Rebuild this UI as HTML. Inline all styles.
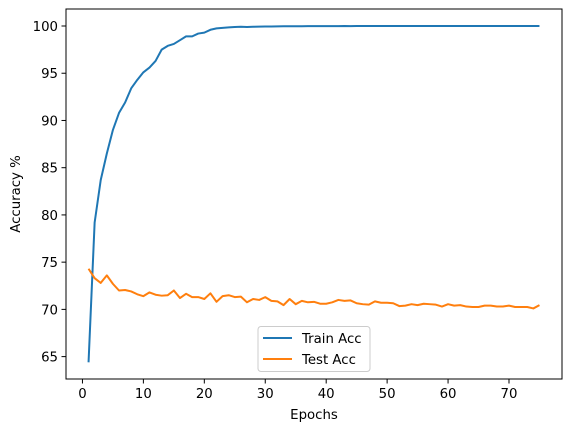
<!DOCTYPE html>
<html><head><meta charset="utf-8"><style>
body{margin:0;background:#fff}
svg text{font-family:"DejaVu Sans","Liberation Sans",sans-serif;font-size:13.3px;fill:#000}
</style></head><body>
<svg id="chart" width="571" height="432" viewBox="0 0 571 432">
<g id="marks"></g>
<rect x="66" y="9" width="496" height="370" fill="none" stroke="#000" stroke-width="1"/>
<g id="ticks"></g>
<text x="314" y="419" text-anchor="middle">Epochs</text>
<text transform="translate(20,194) rotate(-90)" text-anchor="middle">Accuracy %</text>
<g>
<rect x="258" y="326.5" width="112" height="45" rx="3" fill="#fff" fill-opacity="0.8" stroke="#ccc"/>
<line x1="263" x2="292" y1="338" y2="338" stroke="#1f77b4" stroke-width="2"/>
<text x="302" y="343">Train Acc</text>
<line x1="263" x2="292" y1="359" y2="359" stroke="#ff7f0e" stroke-width="2"/>
<text x="302" y="364">Test Acc</text>
</g>
</svg>
<script>
const trainAcc=[64.4,79.2,83.7,86.5,89,90.8,91.9,93.4,94.3,95.1,95.6,96.3,97.5,97.9,98.1,98.5,98.9,98.9,99.2,99.3,99.6,99.75,99.8,99.85,99.9,99.92,99.9,99.92,99.93,99.95,99.95,99.96,99.98,99.97,99.98,99.98,99.99,99.99,99.99,99.99,99.99,99.99,100,99.99,100,100,100,100,100,100,100,100,100,100,100,100,100,100,100,100,100,100,100,100,100,100,100,100,100,100,100,100,100,100,100];
const testAcc=[74.3,73.3,72.8,73.6,72.7,72.0,72.05,71.9,71.6,71.4,71.8,71.55,71.45,71.5,72.0,71.2,71.65,71.3,71.3,71.1,71.7,70.8,71.4,71.5,71.3,71.35,70.75,71.1,71.0,71.3,70.9,70.85,70.45,71.1,70.55,70.9,70.75,70.8,70.6,70.6,70.75,71.0,70.9,70.95,70.65,70.55,70.5,70.85,70.7,70.7,70.65,70.35,70.4,70.55,70.45,70.6,70.55,70.5,70.3,70.55,70.4,70.45,70.3,70.25,70.25,70.4,70.4,70.3,70.3,70.4,70.25,70.25,70.25,70.1,70.45];
const xTicks=[0,10,20,30,40,50,60,70];
const yTicks=[65,70,75,80,85,90,95,100];
const ns="http://www.w3.org/2000/svg";
const X0=-2.7,X1=78.7,Y0=62.63,Y1=101.8;
const sx=v=>66+(v-X0)/(X1-X0)*496;
const sy=v=>379-(v-Y0)/(Y1-Y0)*370;
const marks=document.getElementById('marks'),ticks=document.getElementById('ticks');
function line(vals,color,name){
  const p=document.createElementNS(ns,'polyline');
  p.setAttribute('points',vals.map((v,i)=>sx(i+1)+','+sy(v)).join(' '));
  p.setAttribute('fill','none');p.setAttribute('stroke',color);p.setAttribute('stroke-width','2');
  p.setAttribute('stroke-linejoin','round');
  
  
  marks.appendChild(p);
}
line(trainAcc,'#1f77b4','train-acc-line');
line(testAcc,'#ff7f0e','test-acc-line');
xTicks.forEach(t=>{
  const l=document.createElementNS(ns,'line');
  l.setAttribute('x1',sx(t));l.setAttribute('x2',sx(t));l.setAttribute('y1',379);l.setAttribute('y2',383.5);l.setAttribute('stroke','#000');
  
  
  ticks.appendChild(l);
  const tx=document.createElementNS(ns,'text');
  tx.setAttribute('x',sx(t));tx.setAttribute('y',398);tx.setAttribute('text-anchor','middle');tx.textContent=t;
  
  
  ticks.appendChild(tx);
});
yTicks.forEach(t=>{
  const l=document.createElementNS(ns,'line');
  l.setAttribute('x1',61.5);l.setAttribute('x2',66);l.setAttribute('y1',sy(t));l.setAttribute('y2',sy(t));l.setAttribute('stroke','#000');
  
  
  ticks.appendChild(l);
  const tx=document.createElementNS(ns,'text');
  tx.setAttribute('x',58);tx.setAttribute('y',sy(t)+5);tx.setAttribute('text-anchor','end');tx.textContent=t;
  
  
  ticks.appendChild(tx);
});
</script>
</body></html>
